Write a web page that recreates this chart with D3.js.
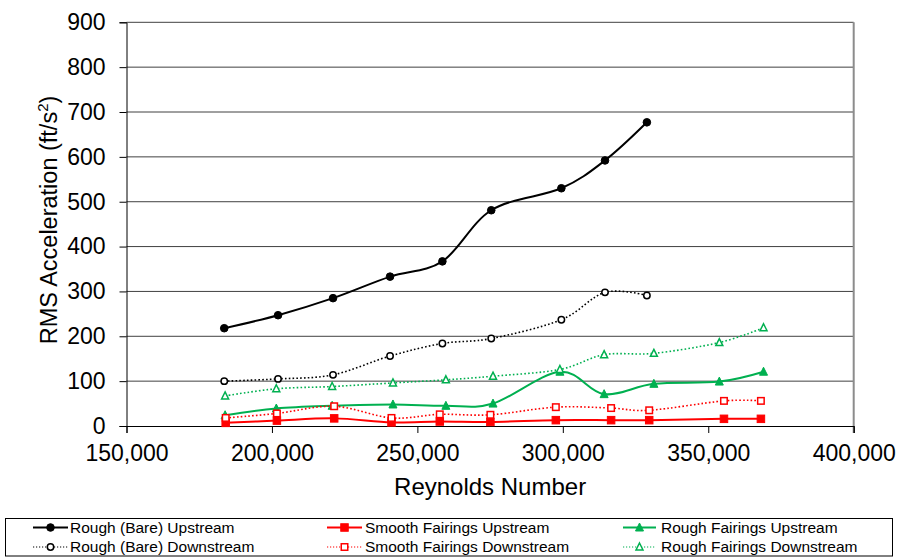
<!DOCTYPE html>
<html>
<head>
<meta charset="utf-8">
<script src="https://cdn.jsdelivr.net/npm/d3@7"></script>
<style>
  html, body { margin: 0; padding: 0; background: #fff; }
  svg { display: block; font-family: "Liberation Sans", Arial, sans-serif; }
</style>
</head>
<body>
<svg id="chart" width="898" height="557"></svg>
<script>
// ---- data ----
const xTicks = [150000, 200000, 250000, 300000, 350000, 400000];
const yTicks = [0, 100, 200, 300, 400, 500, 600, 700, 800, 900];

const reBare = [183600, 202100, 221000, 240600, 258600, 275400, 299500, 314500, 328900];
const bareUp = [218, 247, 285, 333, 367, 481, 530, 592, 677];
const bareDown = [100, 105, 114, 156, 184, 195, 237, 298, 291];

const reSmooth = [184100, 201700, 221400, 241100, 257700, 275100, 297600, 316600, 329700, 355400, 368100];
const smoothUp = [7, 12, 17, 8, 10, 9, 13, 13, 13, 16, 16];
const smoothDown = [18, 28, 44, 18, 26, 25, 42, 40, 35, 56, 56];

const reRough = [183900, 201500, 220700, 241600, 259800, 276000, 299000, 314200, 331300, 353800, 369000];
const roughUp = [24, 39, 45, 48, 45, 50, 121, 71, 94, 99, 121];
const roughDown = [67, 83, 88, 96, 103, 111, 126, 159, 162, 186, 219];

const seriesNames = ["Rough (Bare) Upstream", "Smooth Fairings Upstream", "Rough Fairings Upstream",
                     "Rough (Bare) Downstream", "Smooth Fairings Downstream", "Rough Fairings Downstream"];

const BLACK = "#000000", RED = "#FF0000", GREEN = "#00B050";
const series = [
  {name: seriesNames[0], xs: reBare,   ys: bareUp,     color: BLACK, dotted: false, marker: "circle",   filled: true},
  {name: seriesNames[1], xs: reSmooth, ys: smoothUp,   color: RED,   dotted: false, marker: "square",   filled: true},
  {name: seriesNames[2], xs: reRough,  ys: roughUp,    color: GREEN, dotted: false, marker: "triangle", filled: true},
  {name: seriesNames[3], xs: reBare,   ys: bareDown,   color: BLACK, dotted: true,  marker: "circle",   filled: false},
  {name: seriesNames[4], xs: reSmooth, ys: smoothDown, color: RED,   dotted: true,  marker: "square",   filled: false},
  {name: seriesNames[5], xs: reRough,  ys: roughDown,  color: GREEN, dotted: true,  marker: "triangle", filled: false}
];

// ---- layout ----
const svg = d3.select("#chart");
const L = 126.5, R = 853.7, T = 22.3, B = 426;
const x = d3.scaleLinear().domain([150000, 400000]).range([L, R]);
const y = d3.scaleLinear().domain([0, 900]).range([B, T]);

// gridlines
svg.append("g").selectAll("line").data(yTicks.filter(d => d > 0)).join("line")
  .attr("x1", L).attr("x2", R)
  .attr("y1", d => y(d)).attr("y2", d => y(d))
  .attr("stroke", "#404040").attr("stroke-width", 1);

// right border
svg.append("line").attr("x1", R).attr("x2", R).attr("y1", T).attr("y2", B + 7)
  .attr("stroke", "#8c8c8c").attr("stroke-width", 2);

// y axis
const yAxis = d3.axisLeft(y).tickValues(yTicks).tickSize(7).tickPadding(14).tickFormat(d3.format("d"));
const gy = svg.append("g").attr("transform", `translate(${L},0)`).call(yAxis);
gy.select(".domain").attr("stroke", "#000").attr("stroke-width", 1);
gy.selectAll(".tick line").attr("stroke", "#000");
gy.selectAll(".tick text").attr("font-size", 23).attr("fill", "#000")
  .attr("font-family", "Liberation Sans, Arial, sans-serif");

// x axis
const xAxis = d3.axisBottom(x).tickValues(xTicks).tickSize(7).tickPadding(12).tickFormat(d3.format(","));
const gx = svg.append("g").attr("transform", `translate(0,${B})`).call(xAxis);
gx.select(".domain").attr("stroke", "#000").attr("stroke-width", 1);
gx.selectAll(".tick line").attr("stroke", "#000");
gx.selectAll(".tick text").attr("font-size", 23).attr("fill", "#000")
  .attr("font-family", "Liberation Sans, Arial, sans-serif");

// axis titles
svg.append("text").attr("x", (L + R) / 2).attr("y", 495).attr("text-anchor", "middle")
  .attr("font-size", 24).attr("fill", "#000").text("Reynolds Number");

const yt = svg.append("text").attr("transform", "translate(57,220) rotate(-90)")
  .attr("text-anchor", "middle").attr("font-size", 23.5).attr("fill", "#000");
yt.append("tspan").text("RMS Acceleration (ft/s");
yt.append("tspan").attr("font-size", 15).attr("dy", -9).text("2");
yt.append("tspan").attr("dy", 9).text(")");

// ---- marker drawing ----
function drawMarker(g, m, cx, cy, color, filled) {
  if (m === "circle") {
    g.append("circle").attr("cx", cx).attr("cy", cy).attr("r", filled ? 3.8 : 3.2)
      .attr("fill", filled ? color : "#fff").attr("stroke", color).attr("stroke-width", filled ? 1 : 1.5);
  } else if (m === "square") {
    const s = filled ? 7.5 : 6.5;
    g.append("rect").attr("x", cx - s / 2).attr("y", cy - s / 2).attr("width", s).attr("height", s)
      .attr("fill", filled ? color : "#fff").attr("stroke", color).attr("stroke-width", filled ? 1 : 1.5);
  } else {
    const h = filled ? 8 : 7;
    const pts = [[cx, cy - h / 2 - 0.5], [cx + h / 2, cy + h / 2 - 0.5], [cx - h / 2, cy + h / 2 - 0.5]];
    g.append("polygon").attr("points", pts.map(p => p.join(",")).join(" "))
      .attr("fill", filled ? color : "#fff").attr("stroke", color).attr("stroke-width", filled ? 1 : 1.5);
  }
}

const line = d3.line().x(d => x(d[0])).y(d => y(d[1])).curve(d3.curveCardinal.tension(0));

const plot = svg.append("g");
series.forEach(s => {
  const pts = s.xs.map((v, i) => [v, s.ys[i]]);
  const g = plot.append("g");
  g.append("path").attr("d", line(pts)).attr("fill", "none").attr("stroke", s.color)
    .attr("stroke-width", s.dotted ? 1.6 : 2)
    .attr("stroke-dasharray", s.dotted ? "1.6,2.2" : null);
  pts.forEach(p => drawMarker(g, s.marker, x(p[0]), y(p[1]), s.color, s.filled));
});

// ---- legend ----
const leg = svg.append("g");
leg.append("rect").attr("x", 5.5).attr("y", 518.5).attr("width", 887).attr("height", 37.5)
  .attr("fill", "#fff").attr("stroke", "#000").attr("stroke-width", 1);
const colX = [[33, 68, 70], [327, 362, 365], [623, 656, 661]];
const rowY = [527.5, 547];
series.forEach((s, i) => {
  const c = colX[i % 3], r = rowY[Math.floor(i / 3)];
  const g = leg.append("g");
  g.append("line").attr("x1", c[0]).attr("x2", c[1]).attr("y1", r).attr("y2", r)
    .attr("stroke", s.color).attr("stroke-width", s.dotted ? 1.2 : 2)
    .attr("stroke-dasharray", s.dotted ? "1.2,1.8" : null);
  drawMarker(g, s.marker, (c[0] + c[1]) / 2, r, s.color, s.filled);
  g.append("text").attr("x", c[2]).attr("y", r).attr("dy", "0.35em")
    .attr("font-size", 15.5).attr("fill", "#000").text(s.name);
});
</script>
</body>
</html>
